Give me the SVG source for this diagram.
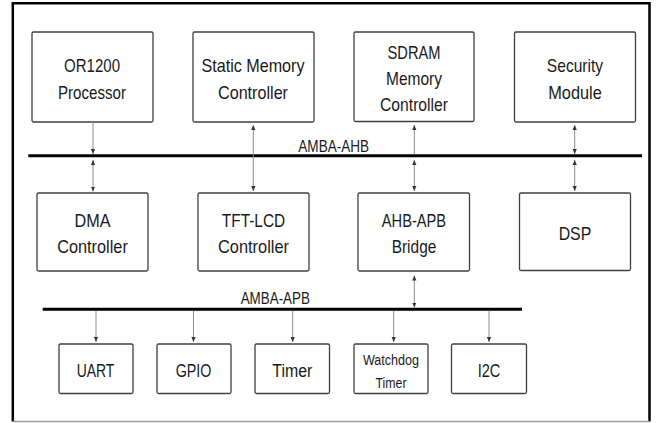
<svg xmlns="http://www.w3.org/2000/svg" width="657" height="423" viewBox="0 0 657 423">
  <style>
    .box { fill: #ffffff; stroke: #404040; stroke-width: 1.3; }
    .lbl { font-family: "Liberation Sans", Arial, sans-serif; font-size: 19px; fill: #1a1a1a; text-anchor: middle; }
    .sm { font-size: 18px; }
    .xs { font-size: 15.4px; }
    .bus { stroke: #000000; stroke-width: 3; fill: none; }
    .buslbl { font-family: "Liberation Sans", Arial, sans-serif; font-size: 16px; fill: #1a1a1a; text-anchor: middle; }
    .link { stroke: #8c8c8c; stroke-width: 1; fill: none; }
  </style>
  <defs>
    <marker id="arrow" viewBox="0 0 5 5" refX="5" refY="2.5" markerWidth="5" markerHeight="5" markerUnits="userSpaceOnUse" orient="auto-start-reverse">
      <path d="M0,0.4 L5,2.5 L0,4.6 z" fill="#333333"/>
    </marker>
  </defs>

  <rect width="657" height="423" fill="#ffffff"/>

  <!-- enclosing frame -->
  <g id="frame">
    <path d="M12.8,421.5 V3.2 H649.5 V421.5" fill="none" stroke="#000000" stroke-width="2.5"/>
    <line x1="12.8" y1="421.6" x2="649.5" y2="421.6" stroke="#9a9a9a" stroke-width="1.5"/>
  </g>

  <!-- system buses -->
  <g id="ahb-bus">
    <line class="bus" x1="28.3" y1="155.7" x2="642" y2="155.7"/>
    <text class="buslbl" x="333.7" y="152.3" textLength="70.7" lengthAdjust="spacingAndGlyphs">AMBA-AHB</text>
  </g>
  <g id="apb-bus">
    <line class="bus" x1="42.7" y1="309.3" x2="522" y2="309.3"/>
    <text class="buslbl" x="275.3" y="304" textLength="69.3" lengthAdjust="spacingAndGlyphs">AMBA-APB</text>
  </g>

  <!-- top row: AHB masters and slaves -->
  <g id="or1200">
    <rect class="box" x="32" y="32" width="121" height="90" rx="1.5"/>
    <text class="lbl" x="92" y="72" textLength="56" lengthAdjust="spacingAndGlyphs">OR1200</text>
    <text class="lbl" x="92" y="99" textLength="68" lengthAdjust="spacingAndGlyphs">Processor</text>
  </g>
  <g id="static-mem">
    <rect class="box" x="193" y="32" width="121" height="90" rx="1.5"/>
    <text class="lbl" x="253" y="72" textLength="103" lengthAdjust="spacingAndGlyphs">Static Memory</text>
    <text class="lbl" x="253" y="99" textLength="70" lengthAdjust="spacingAndGlyphs">Controller</text>
  </g>
  <g id="sdram">
    <rect class="box" x="354" y="32" width="120" height="89.5" rx="1.5"/>
    <text class="lbl" x="414" y="58.5" textLength="53" lengthAdjust="spacingAndGlyphs">SDRAM</text>
    <text class="lbl" x="414" y="85" textLength="56" lengthAdjust="spacingAndGlyphs">Memory</text>
    <text class="lbl" x="414" y="111" textLength="68" lengthAdjust="spacingAndGlyphs">Controller</text>
  </g>
  <g id="security">
    <rect class="box" x="514.5" y="32" width="121" height="90" rx="1.5"/>
    <text class="lbl" x="575" y="72" textLength="56.3" lengthAdjust="spacingAndGlyphs">Security</text>
    <text class="lbl" x="575" y="99" textLength="53.7" lengthAdjust="spacingAndGlyphs">Module</text>
  </g>

  <!-- middle row -->
  <g id="dma">
    <rect class="box" x="37" y="193" width="111" height="78" rx="1.5"/>
    <text class="lbl" x="92.5" y="226.5" textLength="36" lengthAdjust="spacingAndGlyphs">DMA</text>
    <text class="lbl" x="92.5" y="253" textLength="70.7" lengthAdjust="spacingAndGlyphs">Controller</text>
  </g>
  <g id="tft-lcd">
    <rect class="box" x="198" y="193" width="111" height="78" rx="1.5"/>
    <text class="lbl" x="253.5" y="226.5" textLength="63.3" lengthAdjust="spacingAndGlyphs">TFT-LCD</text>
    <text class="lbl" x="253.5" y="253" textLength="71" lengthAdjust="spacingAndGlyphs">Controller</text>
  </g>
  <g id="ahb-apb-bridge">
    <rect class="box" x="358" y="193" width="111.5" height="78" rx="1.5"/>
    <text class="lbl" x="414" y="226.5" textLength="64.3" lengthAdjust="spacingAndGlyphs">AHB-APB</text>
    <text class="lbl" x="414" y="253" textLength="44.7" lengthAdjust="spacingAndGlyphs">Bridge</text>
  </g>
  <g id="dsp">
    <rect class="box" x="519.5" y="193" width="111" height="77.5" rx="1.5"/>
    <text class="lbl" x="575" y="239.5" textLength="32.7" lengthAdjust="spacingAndGlyphs">DSP</text>
  </g>

  <!-- bottom row: APB peripherals -->
  <g id="uart">
    <rect class="box" x="59" y="344" width="74" height="49.5" rx="1.5"/>
    <text class="lbl sm" x="95.5" y="376.5" textLength="37.7" lengthAdjust="spacingAndGlyphs">UART</text>
  </g>
  <g id="gpio">
    <rect class="box" x="157" y="344" width="74" height="49.5" rx="1.5"/>
    <text class="lbl sm" x="193.5" y="376.5" textLength="35.7" lengthAdjust="spacingAndGlyphs">GPIO</text>
  </g>
  <g id="timer">
    <rect class="box" x="255" y="344" width="74.5" height="49.5" rx="1.5"/>
    <text class="lbl sm" x="292.3" y="376.5" textLength="40" lengthAdjust="spacingAndGlyphs">Timer</text>
  </g>
  <g id="watchdog">
    <rect class="box" x="354" y="344" width="74" height="49.5" rx="1.5"/>
    <text class="lbl xs" x="391" y="365" textLength="56" lengthAdjust="spacingAndGlyphs">Watchdog</text>
    <text class="lbl xs" x="391" y="388" textLength="31" lengthAdjust="spacingAndGlyphs">Timer</text>
  </g>
  <g id="i2c">
    <rect class="box" x="451.5" y="344" width="75" height="49.5" rx="1.5"/>
    <text class="lbl sm" x="489" y="376.5" textLength="22.7" lengthAdjust="spacingAndGlyphs">I2C</text>
  </g>

  <!-- connectors -->
  <g id="connectors">
    <line class="link" x1="93" y1="122" x2="93" y2="154" marker-end="url(#arrow)"/>
    <line class="link" x1="93" y1="160" x2="93" y2="191.5" marker-start="url(#arrow)" marker-end="url(#arrow)"/>
    <line class="link" x1="253.3" y1="125" x2="253.3" y2="191" marker-start="url(#arrow)" marker-end="url(#arrow)"/>
    <line class="link" x1="414.3" y1="125" x2="414.3" y2="154.5" marker-start="url(#arrow)"/>
    <line class="link" x1="414.3" y1="160" x2="414.3" y2="191" marker-start="url(#arrow)" marker-end="url(#arrow)"/>
    <line class="link" x1="574.7" y1="125" x2="574.7" y2="154" marker-start="url(#arrow)" marker-end="url(#arrow)"/>
    <line class="link" x1="574.7" y1="160" x2="574.7" y2="191" marker-start="url(#arrow)" marker-end="url(#arrow)"/>
    <line class="link" x1="414.3" y1="275.5" x2="414.3" y2="307.5" marker-start="url(#arrow)" marker-end="url(#arrow)"/>
    <line class="link" x1="96" y1="310.8" x2="96" y2="342" marker-end="url(#arrow)"/>
    <line class="link" x1="193.5" y1="310.8" x2="193.5" y2="342" marker-end="url(#arrow)"/>
    <line class="link" x1="292.7" y1="310.8" x2="292.7" y2="342" marker-end="url(#arrow)"/>
    <line class="link" x1="393.7" y1="310.8" x2="393.7" y2="342" marker-end="url(#arrow)"/>
    <line class="link" x1="489" y1="310.8" x2="489" y2="342" marker-end="url(#arrow)"/>
  </g>
</svg>
